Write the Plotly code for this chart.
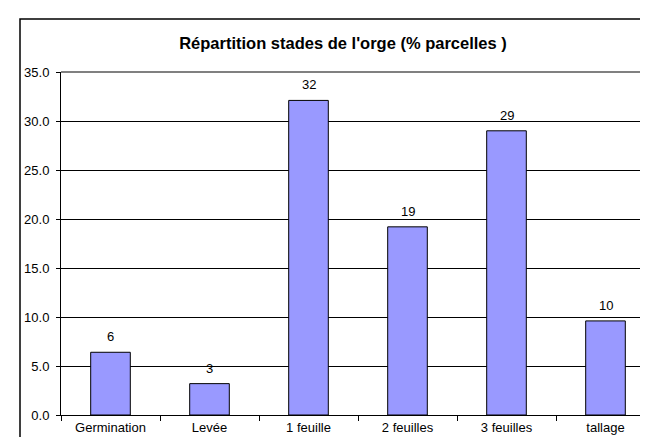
import plotly.graph_objects as go

categories = ["Germination", "Levée", "1 feuille", "2 feuilles", "3 feuilles", "tallage"]
values = [6.4, 3.2, 32.1, 19.2, 29.0, 9.6]
y_ticks = [0, 5, 10, 15, 20, 25, 30, 35]
y_tick_labels = ["0.0", "5.0", "10.0", "15.0", "20.0", "25.0", "30.0", "35.0"]
title_text = "Répartition stades de l'orge (% parcelles )"

FONT = "Liberation Sans, Arial, sans-serif"

fig = go.Figure()
fig.add_trace(go.Bar(
    x=categories,
    y=values,
    marker=dict(color="#9999FF", line=dict(color="#000000", width=1)),
    width=0.4,
    hoverinfo="skip",
))

for c, v in zip(categories, values):
    fig.add_annotation(
        x=c, y=v, text=f"{v:.0f}", showarrow=False,
        yanchor="bottom", yshift=6,
        font=dict(family=FONT, size=13, color="#000000"),
    )

fig.update_layout(
    width=648, height=437,
    margin=dict(l=53, r=1, t=64, b=30),
    paper_bgcolor="#FFFFFF", plot_bgcolor="#FFFFFF",
    showlegend=False,
    title=dict(text=f"<b>{title_text}</b>", x=(335 / 648), xanchor="center",
               y=1 - 35 / 437, yanchor="middle",
               font=dict(family=FONT, size=16.5, color="#000000")),
    font=dict(family=FONT, size=13, color="#000000"),
)

fig.update_xaxes(
    type="category", showgrid=False, showline=True, linecolor="#000000", linewidth=1,
    ticks="outside", tickson="boundaries", ticklen=5, tickcolor="#000000",
    ticklabelstandoff=0,
    tickfont=dict(family=FONT, size=13, color="#000000"),
    range=[-0.5, 5.5], fixedrange=True,
)
fig.update_yaxes(
    range=[0, 35], tickvals=y_ticks, ticktext=y_tick_labels,
    showgrid=True, gridcolor="#000000", gridwidth=1,
    showline=True, linecolor="#000000", linewidth=1,
    ticks="outside", ticklen=4, tickcolor="#000000",
    ticklabelstandoff=4,
    tickfont=dict(family=FONT, size=13, color="#000000"),
    zeroline=False, fixedrange=True,
)

# plot area border (grey top and right) and outer chart border
fig.add_shape(type="line", xref="paper", yref="paper", x0=0, x1=1, y0=1, y1=1,
              line=dict(color="#808080", width=2))
fig.add_shape(type="line", xref="paper", yref="paper", x0=1, x1=1, y0=0, y1=1,
              line=dict(color="#808080", width=2))
fig.add_shape(type="rect", xref="paper", yref="paper",
              x0=(12 - 53) / 594, x1=1.05, y0=-0.2, y1=1 + (64 - 11) / 343,
              line=dict(color="#000000", width=1.5), layer="below")

fig.write_html("out.html")
